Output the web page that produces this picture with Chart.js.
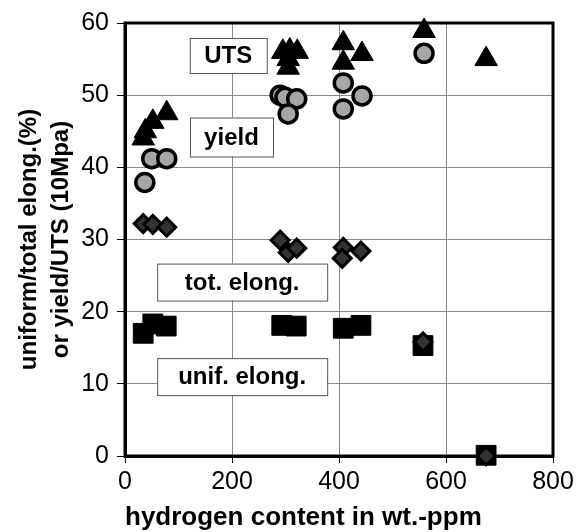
<!DOCTYPE html>
<html>
<head>
<meta charset="utf-8">
<script src="https://cdn.jsdelivr.net/npm/chart.js@4.4.1/dist/chart.umd.min.js"></script>
<style>
  html, body { margin: 0; padding: 0; background: #fff; }
  #wrap { width: 586px; height: 532px; }
</style>
</head>
<body>
<div id="wrap"><canvas id="hChart" width="586" height="532"></canvas></div>
<script>
// values (x = hydrogen wt.-ppm)
var utsH = [34, 38, 52, 78, 295, 305, 308, 322, 305, 408, 408, 443, 559, 675];
var utsV = [44, 45, 46.3, 47.5, 56, 55, 56.2, 56, 53.8, 57.2, 54.5, 55.7, 58.9, 55];

var yieldH = [37, 50, 78, 290, 299, 321, 305, 408, 408, 443, 559];
var yieldV = [37.9, 41.2, 41.2, 50, 49.7, 49.5, 47.4, 51.7, 48.1, 49.9, 55.8];

var totH = [34, 52, 78, 290, 305, 321, 408, 406, 441, 557, 675];
var totV = [32.2, 32.1, 31.7, 29.9, 28.2, 28.8, 28.9, 27.4, 28.4, 15.8, 0];

var unifH = [34, 52, 77, 293, 320, 408, 441, 557, 675];
var unifV = [17.0, 18.3, 18.0, 18.1, 18.0, 17.7, 18.1, 15.3, 0.1];

var xTicks = [0, 200, 400, 600, 800];
var yTicks = [0, 10, 20, 30, 40, 50, 60];

// boxed labels inside the plot: text, data position of centre
var labelText = ['UTS', 'yield', 'tot. elong.', 'unif. elong.'];
var labelX = [193, 199, 219, 219];
var labelY = [55.5, 44.2, 24.1, 11.0];
var labelW = [77, 83, 170, 170];
var labelH = [35, 39, 37, 37];

function pts(xs, ys) {
  return xs.map(function (x, i) { return { x: x, y: ys[i] }; });
}

var FONT = '"Liberation Sans", Arial, Helvetica, sans-serif';

var frameAndLabels = {
  id: 'frameAndLabels',
  beforeDatasetsDraw: function (chart) {
    var ctx = chart.ctx, xs = chart.scales.x, ys = chart.scales.y;
    ctx.save();
    ctx.font = 'bold 24px ' + FONT;
    ctx.textAlign = 'center';
    ctx.textBaseline = 'middle';
    for (var i = 0; i < labelText.length; i++) {
      var cx = xs.getPixelForValue(labelX[i]);
      var cy = ys.getPixelForValue(labelY[i]);
      var w = labelW[i], h = labelH[i];
      ctx.fillStyle = '#fff';
      ctx.fillRect(cx - w / 2, cy - h / 2, w, h);
      ctx.strokeStyle = '#555';
      ctx.lineWidth = 1;
      ctx.strokeRect(cx - w / 2 + 0.5, cy - h / 2 + 0.5, w, h);
      ctx.fillStyle = '#000';
      ctx.fillText(labelText[i], cx, cy + 1);
    }
    // plot frame
    var a = chart.chartArea;
    ctx.strokeStyle = '#000';
    ctx.lineWidth = 3;
    ctx.strokeRect(a.left, a.top, a.right - a.left, a.bottom - a.top);
    ctx.restore();
  }
};

var ctx = document.getElementById('hChart');
new Chart(ctx, {
  type: 'scatter',
  data: {
    datasets: [
      {
        label: 'yield', data: pts(yieldH, yieldV),
        pointStyle: 'circle', pointRadius: 9,
        backgroundColor: '#a6a6a6', borderColor: '#000', borderWidth: 3.5, clip: false
      },
      {
        label: 'UTS', data: pts(utsH, utsV),
        pointStyle: 'triangle', pointRadius: 13,
        backgroundColor: '#000', borderColor: '#000', borderWidth: 1, clip: false
      },
      {
        label: 'tot. elong.', data: pts(totH, totV),
        pointStyle: 'rectRot', pointRadius: 9,
        backgroundColor: '#333', borderColor: '#000', borderWidth: 3, clip: false
      },
      {
        label: 'unif. elong.', data: pts(unifH, unifV),
        pointStyle: 'rect', pointRadius: 14,
        backgroundColor: '#000', borderColor: '#000', borderWidth: 1, clip: false
      }
    ]
  },
  options: {
    responsive: false,
    animation: false,
    events: [],
    layout: { padding: { top: 22, right: 33, left: 0, bottom: 0 } },
    plugins: {
      legend: { display: false },
      tooltip: { enabled: false }
    },
    scales: {
      x: {
        type: 'linear', min: 0, max: 800,
        afterBuildTicks: function (s) { s.ticks = xTicks.map(function (v) { return { value: v }; }); },
        afterFit: function (s) { s.height = 76; },
        ticks: { color: '#000', font: { family: FONT, size: 25 }, padding: 4, maxRotation: 0 },
        grid: { color: '#8a8a8a', lineWidth: 1, tickLength: 7, tickColor: '#000' },
        border: { color: '#000', width: 3 },
        title: {
          display: true, text: 'hydrogen content in wt.-ppm', color: '#000', align: 'start',
          font: { family: FONT, size: 26, weight: 'bold', lineHeight: 1 },
          padding: { top: 0, bottom: 1 }
        }
      },
      y: {
        type: 'linear', min: 0, max: 60,
        afterBuildTicks: function (s) { s.ticks = yTicks.map(function (v) { return { value: v }; }); },
        afterFit: function (s) { s.width = 125; },
        ticks: { color: '#000', font: { family: FONT, size: 25 }, padding: 8 },
        grid: { color: '#8a8a8a', lineWidth: 1, tickLength: 8, tickColor: '#000' },
        border: { color: '#000', width: 3 },
        title: {
          display: true, text: ['uniform/total elong.(%)', 'or yield/UTS (10Mpa)'], color: '#000',
          font: { family: FONT, size: 24, weight: 'bold', lineHeight: 1.333 },
          padding: { top: 13, bottom: 0 }
        }
      }
    }
  },
  plugins: [frameAndLabels]
});
</script>
</body>
</html>
